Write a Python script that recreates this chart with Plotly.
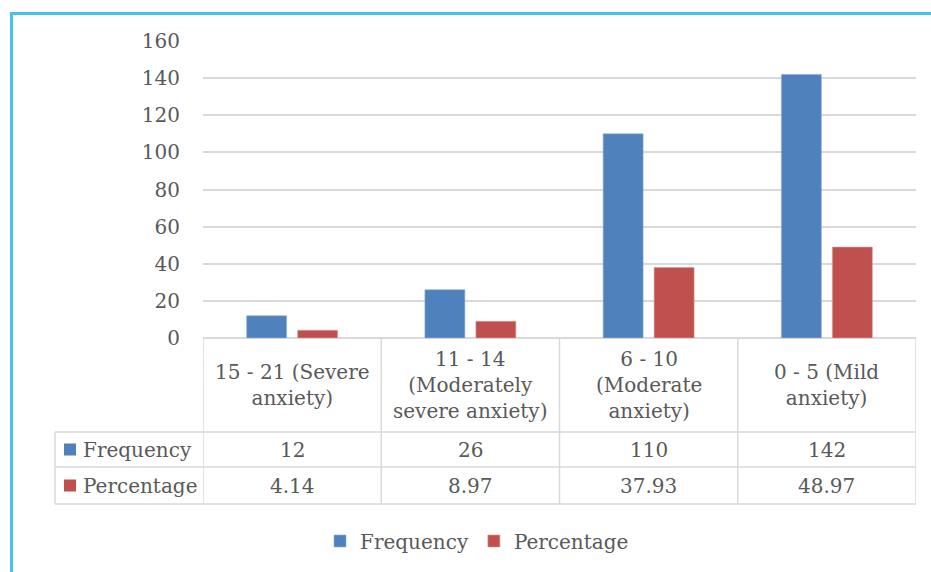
import plotly.graph_objects as go

# Anxiety score bands and their counts / shares
categories = [
    "15 - 21 (Severe<br>anxiety)",
    "11 - 14<br>(Moderately<br>severe anxiety)",
    "6 - 10<br>(Moderate<br>anxiety)",
    "0 - 5 (Mild<br>anxiety)",
]
frequency = [12, 26, 110, 142]
percentage = [4.14, 8.97, 37.93, 48.97]
series_names = ["Frequency", "Percentage"]
y_ticks = [0, 20, 40, 60, 80, 100, 120, 140, 160]

BLUE = "#4F81BD"
RED = "#C0504D"
TEXT = "#595959"
GRID = "#D9D9D9"
FONT = "DejaVu Serif"
W, H = 931, 572


def px_x(p):
    return p / W


def px_y(p):
    return 1 - p / H


idx = list(range(len(categories)))

fig = go.Figure()
fig.add_trace(go.Bar(x=idx, y=frequency, name=series_names[0],
                     marker=dict(color=BLUE, line=dict(color="#8FB0DA", width=0.6))))
fig.add_trace(go.Bar(x=idx, y=percentage, name=series_names[1],
                     marker=dict(color=RED, line=dict(color="#DE9A98", width=0.6))))

shapes = []
annotations = []

# outer frame
shapes.append(dict(type="rect", xref="paper", yref="paper",
                   x0=px_x(11.5), x1=1.2, y0=-0.2, y1=px_y(13.5),
                   line=dict(color="#45C2F0", width=3), layer="below"))

# data table grid
row_lines = [432, 467, 504]
for r in row_lines:
    shapes.append(dict(type="line", xref="paper", yref="paper",
                       x0=px_x(55), x1=px_x(916), y0=px_y(r), y1=px_y(r),
                       line=dict(color=GRID, width=1.5)))
for b in [i - 0.5 for i in range(len(categories) + 1)]:
    shapes.append(dict(type="line", xref="x", yref="paper",
                       x0=b, x1=b, y0=px_y(338), y1=px_y(504),
                       line=dict(color=GRID, width=1.5)))
shapes.append(dict(type="line", xref="paper", yref="paper",
                   x0=px_x(55), x1=px_x(55), y0=px_y(432), y1=px_y(504),
                   line=dict(color=GRID, width=1.5)))

# header texts
for i, c in enumerate(categories):
    annotations.append(dict(x=i, xref="x", y=px_y(385), yref="paper",
                            text=c, showarrow=False, align="center",
                            yanchor="middle", font=dict(size=20, color=TEXT, family=FONT)))

# row labels with colour keys and values
rows = [(series_names[0], BLUE, frequency, "{:d}", 449.5),
        (series_names[1], RED, percentage, "{:.2f}", 485.5)]
for name, col, vals, fmt, yc in rows:
    shapes.append(dict(type="rect", xref="paper", yref="paper",
                       x0=px_x(64), x1=px_x(76), y0=px_y(yc + 6), y1=px_y(yc - 6),
                       fillcolor=col, line=dict(width=0)))
    annotations.append(dict(x=px_x(81), xref="paper", y=px_y(yc), yref="paper",
                            text=name, showarrow=False, xanchor="left", yanchor="middle",
                            font=dict(size=20, color=TEXT, family=FONT)))
    for i, v in enumerate(vals):
        annotations.append(dict(x=i, xref="x", y=px_y(yc), yref="paper",
                                text=fmt.format(v), showarrow=False, yanchor="middle",
                                font=dict(size=20, color=TEXT, family=FONT)))

fig.update_layout(
    width=W, height=H,
    margin=dict(l=0, r=0, t=0, b=0, autoexpand=False),
    paper_bgcolor="white", plot_bgcolor="white",
    barmode="group", bargap=0.428, bargroupgap=0.216,
    font=dict(family=FONT, size=20, color=TEXT),
    xaxis=dict(domain=[px_x(203), px_x(916)], range=[-0.5, len(categories) - 0.5],
               showticklabels=False, showgrid=False, zeroline=False, showline=False,
               fixedrange=True),
    yaxis=dict(domain=[px_y(338), px_y(41)], range=[0, 160], tickvals=y_ticks,
               showgrid=True, gridcolor=GRID, gridwidth=1.5,
               zeroline=True, zerolinecolor=GRID, zerolinewidth=1.5,
               showline=False, ticklabelstandoff=22,
               tickfont=dict(size=20, color=TEXT, family=FONT)),
    legend=dict(orientation="h", x=px_x(477), xanchor="center",
                y=px_y(541), yanchor="middle",
                font=dict(size=20, color=TEXT, family=FONT),
                itemwidth=30, tracegroupgap=0),
    shapes=shapes,
    annotations=annotations,
)

fig.write_html("out.html")
